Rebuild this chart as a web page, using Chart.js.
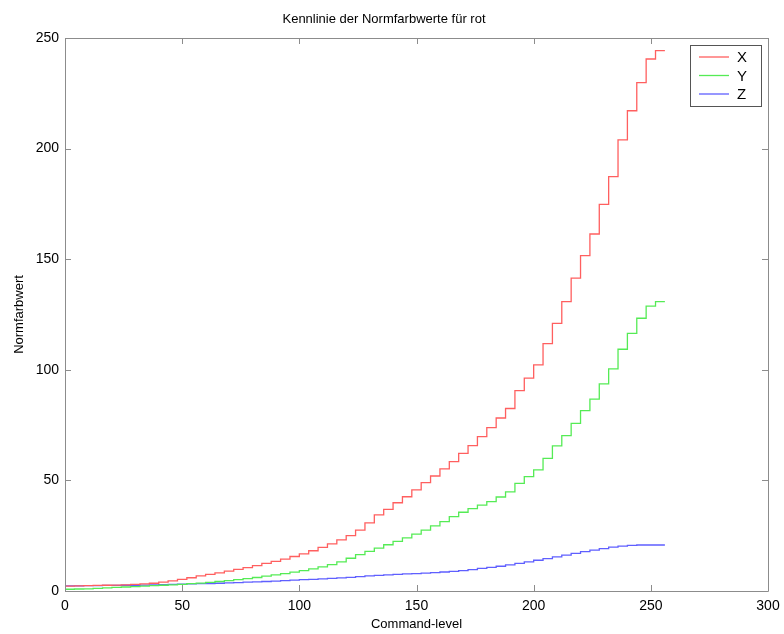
<!DOCTYPE html>
<html>
<head>
<meta charset="utf-8">
<script src="https://cdn.jsdelivr.net/npm/chart.js@4/dist/chart.umd.min.js"></script>
<style>
  html, body { margin: 0; padding: 0; background: #fff; }
  #wrap { width: 784px; height: 634px; }
</style>
</head>
<body>
<div id="wrap"><canvas id="lineChart" width="784" height="634"></canvas></div>
<script>
// Messwerte (Command-level in 4er-Schritten)
const levels = [0,4,8,12,16,20,24,28,32,36,40,44,48,52,56,60,64,68,72,76,80,84,88,92,96,100,104,108,112,116,120,124,128,132,136,140,144,148,152,156,160,164,168,172,176,180,184,188,192,196,200,204,208,212,216,220,224,228,232,236,240,244,248,252,256];

const valuesX = [2.2,2.3,2.4,2.5,2.6,2.7,2.8,3.0,3.2,3.5,4.0,4.6,5.3,6.0,6.8,7.5,8.2,9.0,9.8,10.6,11.5,12.5,13.4,14.4,15.6,16.8,18.2,19.7,21.3,23.1,25.0,27.5,30.8,34.4,36.9,39.9,42.6,45.7,49.0,52.0,55.2,58.5,62.2,65.7,69.8,73.9,78.2,82.5,90.6,96.2,102.2,111.8,121.0,130.8,141.4,151.6,161.4,174.8,187.3,203.9,217.1,229.8,240.5,244.3,244.3];

const valuesY = [0.8,0.9,1.0,1.2,1.4,1.6,1.8,2.0,2.2,2.4,2.6,2.8,3.0,3.3,3.6,3.9,4.3,4.7,5.1,5.6,6.1,6.7,7.3,7.9,8.5,9.2,10.0,10.9,11.9,13.2,14.8,16.4,17.9,19.4,20.9,22.4,24.0,25.7,27.5,29.4,31.4,33.6,35.6,37.2,38.8,40.4,42.5,44.8,48.7,51.7,54.8,60.0,65.6,70.2,75.8,81.5,86.7,93.6,100.4,109.3,116.5,123.3,128.8,130.8,130.8];

const valuesZ = [2.3,2.3,2.4,2.4,2.5,2.5,2.6,2.6,2.7,2.8,2.9,3.0,3.1,3.2,3.3,3.4,3.5,3.7,3.8,4.0,4.1,4.3,4.5,4.7,4.9,5.1,5.3,5.5,5.7,5.9,6.2,6.5,6.8,7.1,7.3,7.5,7.7,7.9,8.1,8.3,8.6,8.9,9.2,9.7,10.2,10.7,11.2,11.8,12.5,13.2,13.9,14.6,15.4,16.2,17.0,17.8,18.5,19.2,19.8,20.3,20.6,20.8,20.8,20.8,20.8];

const xTicks = [0,50,100,150,200,250,300];
const yTicks = [0,50,100,150,200,250];

const FONT = '"Liberation Sans", Arial, sans-serif';

function toPoints(vals){
  return levels.map(function(l, i){ return {x: l, y: vals[i]}; });
}

// Rahmen, Ticks nach innen und Legende im MATLAB-Stil
const matlabBox = {
  id: 'matlabBox',
  afterDraw: function(chart){
    const ctx = chart.ctx;
    const a = chart.chartArea;
    const xs = chart.scales.x, ys = chart.scales.y;
    ctx.save();
    ctx.strokeStyle = '#8c8c8c';
    ctx.lineWidth = 1;
    ctx.beginPath();
    ctx.rect(Math.round(a.left)+0.5, Math.round(a.top)+0.5, Math.round(a.right-a.left), Math.round(a.bottom-a.top));
    ctx.stroke();
    ctx.beginPath();
    xTicks.forEach(function(v){
      const px = Math.round(xs.getPixelForValue(v))+0.5;
      ctx.moveTo(px, a.bottom); ctx.lineTo(px, a.bottom-6);
      ctx.moveTo(px, a.top); ctx.lineTo(px, a.top+6);
    });
    yTicks.forEach(function(v){
      const py = Math.round(ys.getPixelForValue(v))+0.5;
      ctx.moveTo(a.left, py); ctx.lineTo(a.left+6, py);
      ctx.moveTo(a.right, py); ctx.lineTo(a.right-6, py);
    });
    ctx.stroke();

    // Legende
    const bx = 690.5, by = 45.5, bw = 71, bh = 61;
    ctx.fillStyle = '#fff';
    ctx.fillRect(bx, by, bw, bh);
    ctx.strokeStyle = '#555';
    ctx.strokeRect(bx, by, bw, bh);
    ctx.font = '15px ' + FONT;
    ctx.textBaseline = 'middle';
    chart.data.datasets.forEach(function(ds, i){
      const y = 57 + i*18.5;
      ctx.strokeStyle = ds.borderColor;
      ctx.lineWidth = 1.3;
      ctx.beginPath();
      ctx.moveTo(699, y); ctx.lineTo(729, y);
      ctx.stroke();
      ctx.fillStyle = '#000';
      ctx.fillText(ds.label, 737, y+1);
    });
    ctx.restore();
  }
};

window.onload = function(){
  const lineCtx = document.getElementById('lineChart');
  const lineConfig = {
    type: 'line',
    data: {
      datasets: [
        { label: 'X', data: toPoints(valuesX), borderColor: 'rgb(255,95,95)' },
        { label: 'Y', data: toPoints(valuesY), borderColor: 'rgb(85,235,85)' },
        { label: 'Z', data: toPoints(valuesZ), borderColor: 'rgb(95,95,255)' }
      ]
    },
    options: {
      responsive: false,
      animation: false,
      layout: { padding: { top: 0, right: 16, left: 0, bottom: 0 } },
      elements: {
        line: { borderWidth: 1.3, stepped: 'before', fill: false, tension: 0 },
        point: { radius: 0 }
      },
      plugins: {
        legend: { display: false },
        tooltip: { enabled: false },
        title: {
          display: true,
          text: 'Kennlinie der Normfarbwerte für rot',
          color: '#000',
          font: { family: FONT, size: 13, weight: 'normal' },
          padding: { top: 12, bottom: 10.4 }
        }
      },
      scales: {
        x: {
          type: 'linear',
          min: 0, max: 300,
          afterBuildTicks: function(s){ s.ticks = xTicks.map(function(v){ return {value: v}; }); },
          afterFit: function(s){ s.height = 43; s.paddingLeft = 0; s.paddingRight = 0; },
          grid: { display: false, drawTicks: false },
          border: { display: false },
          ticks: { color: '#000', padding: 7, maxRotation: 0, font: { family: FONT, size: 14 } },
          title: { display: true, text: 'Command-level', color: '#000', padding: { top: 0, bottom: 2 }, font: { family: FONT, size: 13 } }
        },
        y: {
          type: 'linear',
          min: 0, max: 250,
          afterBuildTicks: function(s){ s.ticks = yTicks.map(function(v){ return {value: v}; }); },
          afterFit: function(s){ s.width = 65; },
          grid: { display: false, drawTicks: false },
          border: { display: false },
          ticks: { color: '#000', padding: 6, font: { family: FONT, size: 14 } },
          title: { display: true, text: 'Normfarbwert', color: '#000', padding: { top: 12, bottom: 0 }, font: { family: FONT, size: 13 } }
        }
      }
    },
    plugins: [matlabBox]
  };
  const lineChart = new Chart(lineCtx, lineConfig);
};
</script>
</body>
</html>
